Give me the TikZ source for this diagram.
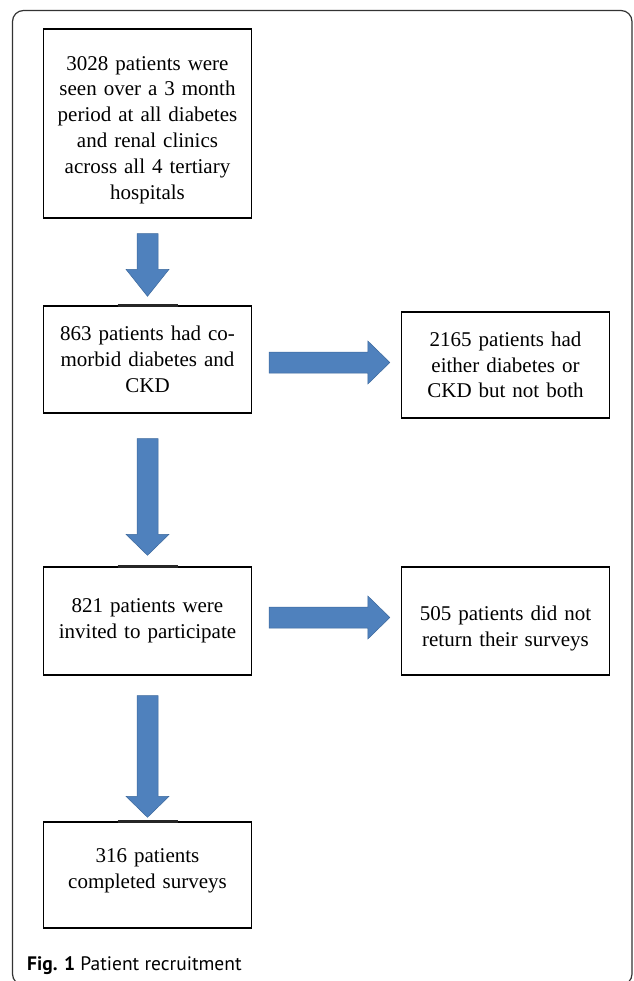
\documentclass[tikz,border=0pt]{standalone}
\usepackage{fontspec}
\setmainfont{Liberation Serif}
\newfontfamily\capfont{PT Sans}
\usetikzlibrary{calc}
\definecolor{arrowblue}{RGB}{79,129,189}
\definecolor{arrowedge}{RGB}{60,104,156}
\tikzset{
  stepbox/.style={draw=black, line width=1.3pt, minimum width=205pt, inner sep=4pt,
    align=center, font=\fontsize{21}{25.8}\selectfont, text width=200pt},
  blk/.style={fill=arrowblue, draw=arrowedge, line width=0.5pt, line join=miter},
  topmark/.style={line width=2.4pt, draw=black!85},
  frame/.style={draw=black!80, line width=1.2pt, rounded corners=11pt},
}
\newcommand\shifted[2]{\raisebox{#1}[\height][\depth]{\begin{tabular}{@{}c@{}}#2\end{tabular}}}
% vertical block arrow: from #1 to #2, top gap #3, tip gap #4, head length #5
\newcommand\vblk[5]{%
  \path[blk] let \p1=(#1.south), \p2=(#2.north) in
   (\x1-10.5pt,\y1-#3) -- (\x1+10.5pt,\y1-#3) -- (\x1+10.5pt,\y2+#4+#5) --
   (\x1+21.5pt,\y2+#4+#5) -- (\x1,\y2+#4) -- (\x1-21.5pt,\y2+#4+#5) --
   (\x1-10.5pt,\y2+#4+#5) -- cycle;}
% horizontal block arrow: from #1 to #2, left gap #3, tip gap #4, head length #5, y offset #6
\newcommand\hblk[6]{%
  \path[blk] let \p1=(#1.east), \p2=(#2.west) in
   (\x1+#3,\y1+#6-10.5pt) -- (\x2-#4-#5,\y1+#6-10.5pt) -- (\x2-#4-#5,\y1+#6-21.5pt) --
   (\x2-#4,\y1+#6) -- (\x2-#4-#5,\y1+#6+21.5pt) -- (\x2-#4-#5,\y1+#6+10.5pt) --
   (\x1+#3,\y1+#6+10.5pt) -- cycle;}
\begin{document}
\begin{tikzpicture}[x=1pt,y=1pt]
\useasboundingbox (0,0) rectangle (633,-981);
\begin{scope}
\clip (0,0) rectangle (633,-981);
\draw[frame] (12.5,-10.5) rectangle (632,-985);
\end{scope}

\node[stepbox, minimum height=189pt] (b1) at (147.5,-123.5)
  {\shifted{-6pt}{3028 patients were\\seen over a 3 month\\period at all diabetes\\and renal clinics\\across all 4 tertiary\\hospitals}};
\node[stepbox, minimum height=107pt] (b2) at (147.5,-359.5)
  {863 patients had co-\\morbid diabetes and\\CKD};
\node[stepbox, minimum height=108pt] (b3) at (147.5,-621)
  {821 patients were\\invited to participate};
\node[stepbox, minimum height=106pt] (b4) at (147.5,-875)
  {\shifted{5pt}{316 patients\\completed surveys}};
\node[stepbox, minimum height=106pt] (r1) at (505.5,-365)
  {2165 patients had\\either diabetes or\\CKD but not both};
\node[stepbox, minimum height=108pt] (r2) at (505.5,-621)
  {\shifted{-7pt}{505 patients did not\\return their surveys}};

\draw[topmark] ([xshift=-30pt]b2.north) -- ([xshift=30pt]b2.north);
\draw[topmark] ([xshift=-30pt]b3.north) -- ([xshift=30pt]b3.north);
\draw[topmark] ([xshift=-30pt]b4.north) -- ([xshift=30pt]b4.north);

\vblk{b1}{b2}{15pt}{9pt}{27pt}
\vblk{b2}{b3}{25pt}{11pt}{21pt}
\vblk{b3}{b4}{20pt}{4pt}{21pt}
\hblk{b2}{r1}{17pt}{11pt}{22pt}{-3pt}
\hblk{b3}{r2}{17pt}{11pt}{22pt}{3.5pt}

\node[anchor=base west, inner sep=0pt, font=\capfont\fontsize{19.5}{22}\selectfont] (cap) at (27,-970)
  {\textbf{Fig. 1} Patient recruitment};
\end{tikzpicture}
\end{document}
